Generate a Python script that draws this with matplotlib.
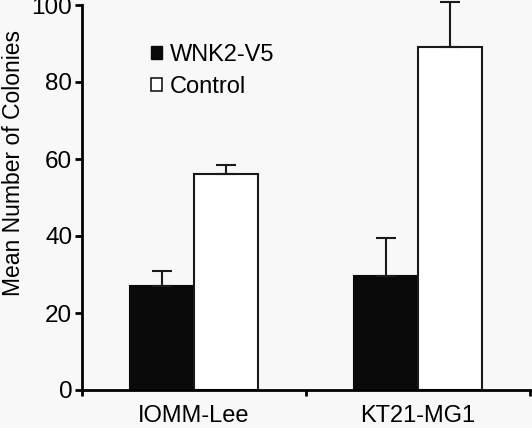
import matplotlib
matplotlib.use("Agg")
import matplotlib.pyplot as plt
from matplotlib.patches import Patch

plt.rcParams['font.family'] = ['Liberation Sans', 'DejaVu Sans']

cell_lines = ["IOMM-Lee", "KT21-MG1"]
series = ["WNK2-V5", "Control"]
wnk2_means = [27.0, 29.5]
wnk2_err = [4.0, 10.0]
control_means = [56.0, 89.2]
control_err = [2.5, 11.5]
y_ticks = [0, 20, 40, 60, 80, 100]

bg = "#f8f8f8"
fig = plt.figure(figsize=(5.32, 4.28), dpi=100, facecolor=bg)
ax = fig.add_axes([82 / 532, 38 / 428, 448 / 532, 385 / 428])
ax.set_facecolor(bg)

x = range(len(cell_lines))
w = 0.285
xs1 = [i - w / 2 for i in x]
xs2 = [i + w / 2 for i in x]

ekw = dict(elinewidth=1.5, capthick=1.5, ecolor="#1a1a1a")
b1 = ax.bar(xs1, wnk2_means, w, color="#0a0a0a", edgecolor="#0a0a0a", linewidth=1.5,
            yerr=[[0] * len(wnk2_err), wnk2_err], capsize=7, error_kw=ekw, zorder=2)
b2 = ax.bar(xs2, control_means, w, color="white", edgecolor="#1a1a1a", linewidth=1.5,
            yerr=[[0] * len(control_err), control_err], capsize=7, error_kw=ekw, zorder=2)
for b in (b1, b2):
    for art in b.errorbar.get_children():
        art.set_clip_on(False)

ax.set_xlim(-0.5, 1.5)
ax.set_ylim(0, 100)
ax.set_yticks(y_ticks)
ax.set_xticks([-0.5, 0.5, 1.5])
ax.set_xticklabels([])
ax.set_xticks(list(x), minor=True)
ax.set_xticklabels(cell_lines, minor=True)
ax.tick_params(axis="x", which="minor", length=0, labelsize=17, pad=11)
ax.tick_params(axis="x", which="major", length=4, width=2, direction="out")
ax.tick_params(axis="y", length=5, width=2, labelsize=17.5, pad=2)

for s in ["top", "right"]:
    ax.spines[s].set_visible(False)
for s in ["left", "bottom"]:
    ax.spines[s].set_linewidth(2)

ax.set_ylabel("Mean Number of Colonies", fontsize=16.5)
ax.yaxis.set_label_coords(-0.127, 0.59)

handles = [Patch(facecolor="#0a0a0a", edgecolor="#0a0a0a"),
           Patch(facecolor="white", edgecolor="#1a1a1a", linewidth=1.2)]
fig.legend(handles, series, loc="upper left", bbox_to_anchor=(130 / 532, 1 - 23 / 428),
           frameon=False, fontsize=17, handlelength=0.47, handleheight=0.47,
           handletextpad=0.3, labelspacing=0.4)

fig.savefig("out.png", dpi=100, facecolor=bg)
